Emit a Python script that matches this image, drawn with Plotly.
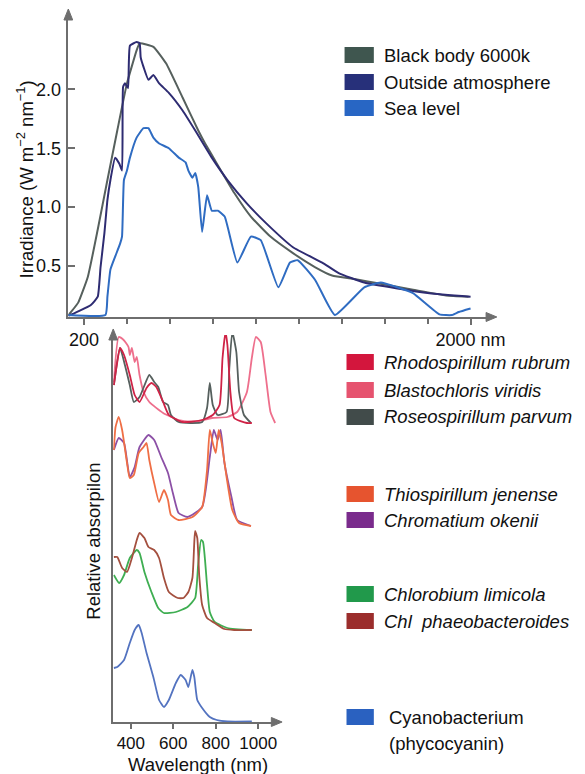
import plotly.graph_objects as go

W, H = 585, 774
FONT = "Liberation Sans, Arial, sans-serif"

# ---------------- Top panel: solar spectra ----------------
bb_nm = [127, 135, 173, 218, 264, 309, 355, 400, 445, 459, 523, 582, 659, 732, 764,
         809, 900, 977, 1068, 1173, 1277, 1355, 1459, 1582, 1732, 1886, 1991]
bb_val = [0.08, 0.10, 0.19, 0.41, 0.81, 1.23, 1.65, 2.05, 2.33, 2.39, 2.36, 2.22, 1.93, 1.65, 1.54,
          1.40, 1.12, 0.92, 0.75, 0.61, 0.49, 0.42, 0.39, 0.35, 0.30, 0.25, 0.24]

out_nm = [127, 136, 232, 264, 277, 295, 309, 323, 345, 364, 377, 382, 391, 405, 414, 445, 459,
          464, 477, 500, 523, 550, 595, 659, 718, 795, 868, 959, 1050, 1173, 1309, 1386, 1505,
          1659, 1809, 2000]
out_val = [0.08, 0.085, 0.17, 0.24, 0.49, 0.78, 1.06, 1.23, 1.42, 1.37, 1.31, 2.02, 2.05, 2.01,
           2.37, 2.40, 2.39, 2.27, 2.19, 2.08, 2.12, 2.05, 1.97, 1.82, 1.65, 1.42, 1.23, 1.03,
           0.86, 0.66, 0.53, 0.44, 0.36, 0.31, 0.27, 0.24]

sea_nm = [127, 300, 309, 323, 345, 368, 377, 386, 400, 414, 445, 477, 500, 523, 550, 595, 641,
          673, 686, 705, 718, 732, 750, 773, 795, 823, 855, 914, 977, 1023, 1105, 1159, 1195,
          1277, 1368, 1505, 1582, 1659, 1732, 1855, 1914, 1945, 2000]
sea_val = [0.085, 0.085, 0.24, 0.47, 0.58, 0.69, 0.75, 1.23, 1.31, 1.42, 1.59, 1.67, 1.67, 1.59,
           1.54, 1.50, 1.42, 1.38, 1.31, 1.25, 1.29, 1.17, 0.79, 1.10, 0.97, 0.97, 0.92, 0.53,
           0.75, 0.72, 0.32, 0.53, 0.55, 0.38, 0.085, 0.32, 0.36, 0.32, 0.27, 0.09, 0.085, 0.11,
           0.14]

top_names = ["Black body 6000k", "Outside atmosphere", "Sea level"]
top_line_colors = ["#56605d", "#2e2c72", "#2f6cc2"]
top_swatch_colors = ["#3f564f", "#27307a", "#2866c4"]
top_minor_ticks = [200, 400, 600, 800, 1000, 1200, 1400, 1600, 1800, 2000]
top_label_ticks = [200, 2000]
top_ticktext = ["200", "2000 nm"]
irr_ticks = [0.5, 1.0, 1.5, 2.0]

# ---------------- Bottom panel: absorption spectra ----------------
rub_nm = [320, 336, 349, 368, 395, 418, 441, 474, 497, 520, 552, 579, 644, 736, 786, 818, 832,
          846, 855, 869, 887, 947, 970]
rub_val = [38, 61, 75, 68, 48, 28, 21, 35, 40, 36, 21, 8, 1, 3, 8, 18, 65, 91, 78, 31, 5, 0, 0]

vir_nm = [320, 343, 366, 389, 395, 405, 418, 428, 441, 460, 487, 552, 625, 703, 782, 855, 901,
          947, 970, 989, 1012, 1035, 1058, 1080]
vir_val = [41, 86, 83, 76, 68, 75, 61, 66, 48, 31, 21, 10, 3, 1, 5, 6, 11, 31, 65, 86, 81, 48,
           11, 0]

par_nm = [320, 349, 372, 395, 414, 441, 487, 510, 529, 552, 575, 589, 625, 736, 759, 772, 786,
          809, 851, 864, 878, 897, 910, 933, 966]
par_val = [38, 75, 58, 38, 21, 26, 48, 41, 36, 21, 18, 8, 1, 1, 15, 40, 18, 8, 11, 55, 91, 71,
           31, 8, 0]

jen_nm = [320, 328, 343, 359, 382, 395, 414, 437, 460, 474, 487, 510, 533, 556, 575, 589, 625,
          690, 736, 759, 772, 786, 800, 814, 828, 851, 878, 910, 966]
jen_val = [77, 100, 110, 97, 64, 49, 52, 74, 80, 84, 67, 44, 25, 37, 27, 12, 7, 10, 20, 57, 97,
           84, 74, 97, 84, 50, 17, 4, 1]

oke_nm = [320, 343, 368, 395, 418, 441, 483, 510, 543, 575, 598, 625, 667, 736, 772, 791, 809,
          823, 841, 874, 901, 966]
oke_val = [77, 89, 84, 50, 60, 80, 92, 87, 70, 54, 34, 14, 10, 20, 70, 97, 87, 97, 64, 30, 7, 1]

lim_nm = [320, 345, 368, 395, 428, 441, 464, 497, 529, 556, 612, 667, 703, 717, 731, 740, 759,
          772, 795, 855, 970]
lim_val = [55, 47, 55, 72, 80, 77, 58, 38, 22, 17, 18, 23, 32, 65, 90, 88, 45, 18, 8, 2, 0]

pha_nm = [320, 336, 359, 382, 405, 428, 441, 464, 483, 510, 533, 556, 579, 621, 648, 671, 690,
          699, 703, 713, 722, 736, 759, 795, 841, 887, 970]
pha_val = [73, 73, 62, 58, 72, 90, 97, 92, 83, 80, 72, 52, 38, 32, 32, 38, 52, 88, 99, 92, 55,
           25, 12, 7, 1, 0, 0]

cya_nm = [320, 336, 368, 395, 418, 437, 451, 474, 506, 533, 556, 579, 612, 635, 658, 671, 690,
          699, 713, 736, 772, 805, 855, 970]
cya_val = [54, 55, 62, 79, 92, 97, 89, 69, 45, 22, 15, 22, 39, 47, 42, 35, 52, 45, 22, 14, 5, 2,
           0.5, 0.5]

group_offsets = [299, 195, 92, 0]
abs_ticks = [400, 600, 800, 1000]

bottom_series = [
    ("Blastochloris viridis", vir_nm, vir_val, 0, "#ee6f8c"),
    ("Roseospirillum parvum", par_nm, par_val, 0, "#56605e"),
    ("Rhodospirillum rubrum", rub_nm, rub_val, 0, "#cf2346"),
    ("Chromatium okenii", oke_nm, oke_val, 1, "#8c50a6"),
    ("Thiospirillum jenense", jen_nm, jen_val, 1, "#ef6e45"),
    ("Chlorobium limicola", lim_nm, lim_val, 2, "#3fae52"),
    ("Chl phaeobacteroides", pha_nm, pha_val, 2, "#a4503f"),
    ("Cyanobacterium", cya_nm, cya_val, 3, "#5373c0"),
]

legend2_items = [
    ("<i>Rhodospirillum rubrum</i>", "#d3163d", 362),
    ("<i>Blastochloris viridis</i>", "#e6536f", 390),
    ("<i>Roseospirillum parvum</i>", "#414b4a", 417),
    ("<i>Thiospirillum jenense</i>", "#e6542f", 494),
    ("<i>Chromatium okenii</i>", "#7a2b8c", 520),
    ("<i>Chlorobium limicola</i>", "#21994b", 594),
    ("<i>Chl\u00a0 phaeobacteroides</i>", "#9b2d2c", 621),
    ("Cyanobacterium", "#2a61c0", 717),
]

fig = go.Figure()

for nm, val, col in zip([bb_nm, out_nm, sea_nm], [bb_val, out_val, sea_val], top_line_colors):
    fig.add_trace(go.Scatter(x=nm, y=val, mode="lines", xaxis="x", yaxis="y",
                             line=dict(color=col, width=2, shape="spline", smoothing=0.4),
                             showlegend=False, hoverinfo="skip"))

# invisible trace so the tick-only overlay axis is drawn
fig.add_trace(go.Scatter(x=[bb_nm[0]], y=[bb_val[0]], mode="lines", xaxis="x3", yaxis="y",
                         line=dict(width=0), showlegend=False, hoverinfo="skip"))

for name, nm, val, g, col in bottom_series:
    fig.add_trace(go.Scatter(x=nm, y=[v + group_offsets[g] for v in val], mode="lines",
                             xaxis="x2", yaxis="y2", name=name,
                             line=dict(color=col, width=1.8, shape="spline", smoothing=0.5),
                             showlegend=False, hoverinfo="skip"))


def px(x):
    return x / W


def py(y):
    return 1 - y / H


AX = "#6e6e6e"
top_x_dom = [px(70), px(503)]
top_x_range = [127, 2095]
fig.update_layout(
    width=W, height=H, margin=dict(l=0, r=0, t=0, b=0),
    paper_bgcolor="white", plot_bgcolor="white",
    font=dict(family=FONT, size=17, color="#111"),
    xaxis=dict(domain=top_x_dom, range=top_x_range, anchor="y",
               tickvals=top_label_ticks, ticktext=top_ticktext, ticks="outside", ticklen=6,
               tickcolor=AX, tickwidth=1.5, showline=True, linecolor=AX, linewidth=1.5,
               showgrid=False, zeroline=False, tickfont=dict(size=18)),
    xaxis3=dict(domain=top_x_dom, range=top_x_range, anchor="y", overlaying="x",
                tickvals=top_minor_ticks, showticklabels=False, ticks="outside", ticklen=6,
                tickcolor=AX, tickwidth=1.5, showline=False, showgrid=False, zeroline=False),
    yaxis=dict(domain=[py(317), py(15)], range=[0.068, 2.63], anchor="x",
               tickvals=irr_ticks, ticktext=["0.5", "1.0", "1.5", "2.0"], ticks="inside",
               ticklen=7, tickcolor=AX, tickwidth=1.5, showline=True, linecolor=AX,
               linewidth=1.5, showgrid=False, zeroline=False, tickfont=dict(size=18),
               ticklabelstandoff=2),
    xaxis2=dict(domain=[px(116), px(283)], range=[317, 1085], anchor="y2",
                tickvals=abs_ticks, ticks="outside", ticklen=5, tickcolor=AX, tickwidth=1.5,
                showline=True, linecolor=AX, linewidth=1.5, showgrid=False, zeroline=False,
                tickfont=dict(size=17)),
    yaxis2=dict(domain=[py(722), py(335)], range=[0, 387], anchor="x2",
                showticklabels=False, ticks="", showline=True, linecolor=AX, linewidth=1.5,
                showgrid=False, zeroline=False),
)

annotations = []
shapes = []


def tri(pts):
    d = "M " + " L ".join(f"{px(a):.5f},{py(b):.5f}" for a, b in pts) + " Z"
    return dict(type="path", xref="paper", yref="paper", path=d, fillcolor=AX,
                line=dict(color=AX, width=1))


# axis arrowheads
shapes.append(tri([(70, 9), (65.5, 20), (74.5, 20)]))
shapes.append(tri([(509, 317), (498, 312.5), (498, 321.5)]))
shapes.append(tri([(116, 329), (111.5, 340), (120.5, 340)]))
shapes.append(tri([(289, 722), (278, 717.5), (278, 726.5)]))

annotations.append(dict(xref="paper", yref="paper", x=px(26), y=py(179),
                        text="Irradiance (W m<sup>\u22122</sup> nm<sup>\u22121</sup>)",
                        textangle=-90, showarrow=False, font=dict(size=18.5),
                        xanchor="center", yanchor="middle"))
annotations.append(dict(xref="paper", yref="paper", x=px(95), y=py(541),
                        text="Relative absorpilon", textangle=-90, showarrow=False,
                        font=dict(size=18.5), xanchor="center", yanchor="middle"))
annotations.append(dict(xref="paper", yref="paper", x=px(203), y=py(764),
                        text="Wavelength (nm)", showarrow=False, font=dict(size=18.5),
                        xanchor="center", yanchor="middle"))

for i, (name, col) in enumerate(zip(top_names, top_swatch_colors)):
    yc = [55, 82, 108][i]
    shapes.append(dict(type="rect", xref="paper", yref="paper", x0=px(353), x1=px(383),
                       y0=py(yc - 8), y1=py(yc + 8), fillcolor=col, line=dict(width=0)))
    annotations.append(dict(xref="paper", yref="paper", x=px(391), y=py(yc), text=name,
                            showarrow=False, xanchor="left", yanchor="middle",
                            font=dict(size=18.5)))

for name, col, yc in legend2_items:
    shapes.append(dict(type="rect", xref="paper", yref="paper", x0=px(355), x1=px(383),
                       y0=py(yc - 8), y1=py(yc + 8), fillcolor=col, line=dict(width=0)))
    xt = 397 if name == "Cyanobacterium" else 391
    annotations.append(dict(xref="paper", yref="paper", x=px(xt), y=py(yc), text=name,
                            showarrow=False, xanchor="left", yanchor="middle",
                            font=dict(size=18.5)))
annotations.append(dict(xref="paper", yref="paper", x=px(397), y=py(743), text="(phycocyanin)",
                        showarrow=False, xanchor="left", yanchor="middle",
                        font=dict(size=18.5)))

fig.update_layout(annotations=annotations, shapes=shapes)
fig.write_html("out.html")
